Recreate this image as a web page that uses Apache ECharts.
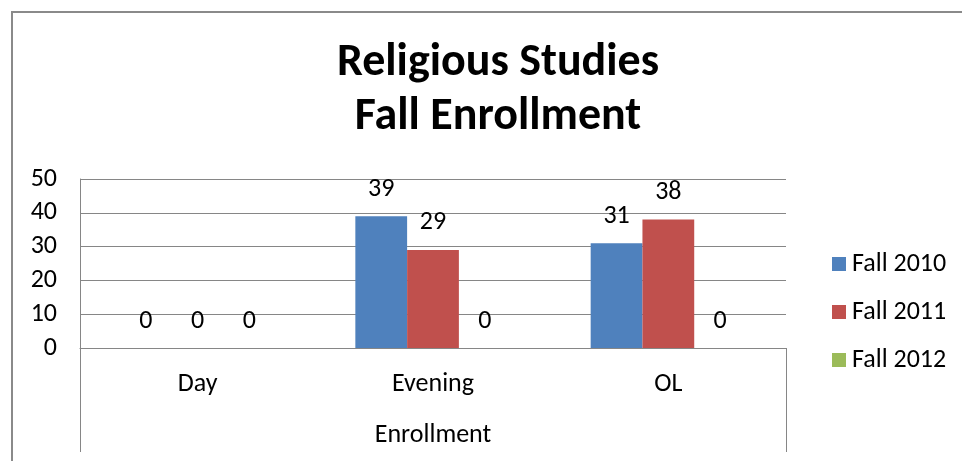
<!DOCTYPE html>
<html>
<head>
<meta charset="utf-8">
<script src="https://cdn.jsdelivr.net/npm/echarts@6/dist/echarts.min.js"></script>
<style>
html,body{margin:0;padding:0;background:#fff;}
#chart{width:962px;height:461px;position:relative;}
#frame{position:absolute;left:11px;top:11px;width:1000px;height:500px;border-left:2px solid #8a8a8a;border-top:2px solid #8a8a8a;pointer-events:none;}
</style>
</head>
<body>
<div id="chart"></div>
<div id="frame"></div>
<script>
const categories = ['Day', 'Evening', 'OL'];
const outerCategory = ['Enrollment'];
const seriesNames = ['Fall 2010', 'Fall 2011', 'Fall 2012'];
const fall2010 = [0, 39, 31];
const fall2011 = [0, 29, 38];
const fall2012 = [0, 0, 0];
const colors = ['#4F81BD', '#C0504D', '#9BBB59'];
const FONT = "Carlito, Lato, 'Liberation Sans', sans-serif";

const chart = echarts.init(document.getElementById('chart'), null, {renderer: 'canvas'});
const values = [fall2010, fall2011, fall2012];
const option = {
  animation: false,
  backgroundColor: '#fff',
  textStyle: {fontFamily: FONT},
  title: {
    text: 'Religious Studies\nFall Enrollment',
    left: 493, textAlign: 'center', top: 31,
    textStyle: {fontFamily: FONT, fontWeight: 'bold', fontSize: 46, lineHeight: 54, color: '#000'}
  },
  legend: {
    orient: 'vertical', left: 827, top: 246,
    itemWidth: 14, itemHeight: 14, itemGap: 22,
    icon: 'rect',
    textStyle: {fontFamily: FONT, fontSize: 26, color: '#000', lineHeight: 26, padding: [0,0,0,1]},
    data: seriesNames
  },
  grid: {left: 80, right: 176, top: 179, bottom: 113, containLabel: false},
  xAxis: [{
    type: 'category', data: categories,
    axisLine: {show: true, lineStyle: {color: '#868686', width: 1}},
    axisTick: {show: false},
    axisLabel: {fontFamily: FONT, fontSize: 26, color: '#000', margin: 23}
  }, {
    type: 'category', data: outerCategory, position: 'bottom',
    axisLine: {show: false},
    axisTick: {show: true, length: 104, lineStyle: {color: '#868686', width: 1}},
    axisLabel: {fontFamily: FONT, fontSize: 26, color: '#000', margin: 74}
  }],
  yAxis: {
    type: 'value', min: 0, max: 50, interval: 10,
    axisLine: {show: true, lineStyle: {color: '#868686', width: 1}},
    axisTick: {show: false},
    splitLine: {show: true, lineStyle: {color: '#868686', width: 1}},
    axisLabel: {fontFamily: FONT, fontSize: 26, color: '#000', margin: 23}
  },
  series: seriesNames.map((n, i) => ({
    name: n, type: 'bar', data: values[i], xAxisIndex: 0,
    barGap: '0%', barCategoryGap: '34%',
    itemStyle: {color: colors[i]},
    label: {show: true, position: 'top', distance: 14, fontFamily: FONT, fontSize: 26, color: '#000'}
  }))
};
chart.setOption(option);
</script>
</body>
</html>
